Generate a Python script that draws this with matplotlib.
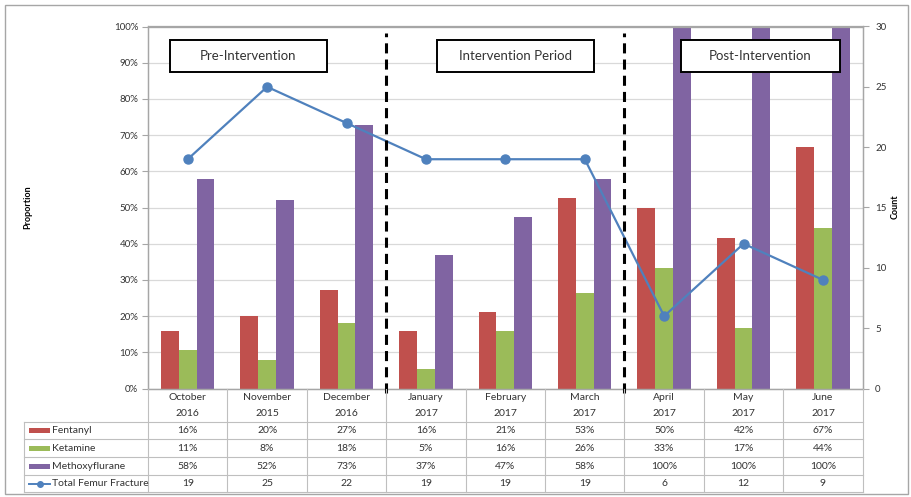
import matplotlib
matplotlib.use('Agg')
import matplotlib.pyplot as plt
from matplotlib.patches import Rectangle
from matplotlib.lines import Line2D
from matplotlib.transforms import blended_transform_factory
import numpy as np

months = ['October', 'November', 'December', 'January', 'February', 'March', 'April', 'May', 'June']
years = ['2016', '2015', '2016', '2017', '2017', '2017', '2017', '2017', '2017']
fentanyl = [15.8, 20.0, 27.3, 15.8, 21.1, 52.6, 50.0, 41.7, 66.7]
ketamine = [10.53, 8.0, 18.2, 5.3, 15.8, 26.3, 33.3, 16.7, 44.4]
methoxyflurane = [57.9, 52.0, 72.7, 36.8, 47.4, 57.9, 100.0, 100.0, 100.0]
femur_total = [19, 25, 22, 19, 19, 19, 6, 12, 9]
period_labels = ['Pre-Intervention', 'Intervention Period', 'Post-Intervention']
period_breaks = [2.5, 5.5]

RED, GREEN, PURPLE, BLUE = '#C0504D', '#9BBB59', '#8064A2', '#4F81BD'
GRID = '#D9D9D9'
TABLE = '#BFBFBF'
TXT = '#333333'

W, H = 911, 497


def fx(px):
    return px / W


def fy(py):
    return 1 - py / H


plt.rcParams['font.family'] = ['Lato', 'DejaVu Sans']
fig = plt.figure(figsize=(W / 100, H / 100), dpi=100)
ax = fig.add_axes([fx(148), fy(388.5), fx(862.7) - fx(148), fy(26.5) - fy(388.5)])
ax2 = ax.twinx()

x = np.arange(len(months))
bw = 0.224
ax.bar(x - bw, fentanyl, bw, color=RED, zorder=2)
ax.bar(x, ketamine, bw, color=GREEN, zorder=2)
ax.bar(x + bw, methoxyflurane, bw, color=PURPLE, zorder=2)
ax.set_xlim(-0.5, len(months) - 0.5)
ax.set_ylim(0, 100)
ax.set_yticks(range(0, 101, 10))
ax.set_yticklabels([f'{t}%' for t in range(0, 101, 10)])
ax.set_xticks([])
ax.grid(axis='y', color=GRID, lw=0.9, zorder=0)
ax.set_axisbelow(True)
ax.tick_params(axis='y', labelsize=7, colors='#A6A6A6', labelcolor=TXT, length=4, pad=3)

ax2.plot(x, femur_total, color=BLUE, lw=1.6, marker='o', ms=6.5, zorder=4)
ax2.set_ylim(0, 30)
ax2.set_yticks(range(0, 31, 5))
ax2.tick_params(axis='y', labelsize=7, colors='#A6A6A6', labelcolor=TXT, length=4, pad=5)

for a in (ax, ax2):
    for s in a.spines.values():
        s.set_color('#A6A6A6')
        s.set_linewidth(0.9)

fig.text(fx(28), fy(207), 'Proportion', rotation=90, weight='bold', fontsize=6.5,
         ha='center', va='center', color='black')
fig.text(fx(895), fy(207), 'Count', rotation=90, weight='bold', fontsize=6.5,
         ha='center', va='center', color='black')

# period separators and labels
for b in period_breaks:
    ax2.axvline(b, ymin=-0.012, ymax=0.982, color='black', lw=2.2,
                ls=(0, (3.3, 2.0)), clip_on=False, zorder=5)

box_x = [(0.031, 0.250), (0.404, 0.624), (0.746, 0.968)]
for label, (x0, x1) in zip(period_labels, box_x):
    ax2.add_patch(Rectangle((x0, 0.874), x1 - x0, 0.088, transform=ax2.transAxes,
                            fc='white', ec='black', lw=1.4, zorder=6))
    ax2.text((x0 + x1) / 2, 0.918, label, transform=ax2.transAxes, ha='center',
             va='center', fontsize=9.5, color=TXT, zorder=7)

# data table below the axis
trans = blended_transform_factory(ax.transData, fig.transFigure)
for i, (m, yr) in enumerate(zip(months, years)):
    ax.text(i, fy(398), m, transform=trans, ha='center', va='center', fontsize=7.5, color=TXT)
    ax.text(i, fy(413), yr, transform=trans, ha='center', va='center', fontsize=7.5, color=TXT)

row_edges = [421.7, 439.3, 457.3, 475.0, 492.3]
for y in row_edges:
    fig.add_artist(Line2D([fx(24), fx(862.7)], [fy(y), fy(y)], color=TABLE, lw=0.8))
fig.add_artist(Line2D([fx(24), fx(24)], [fy(row_edges[0]), fy(row_edges[-1])], color=TABLE, lw=0.8))
for i in range(len(months) + 1):
    fig.add_artist(Line2D([i - 0.5, i - 0.5], [fy(388.5), fy(row_edges[-1])],
                          transform=trans, color=TABLE, lw=0.8))

rows = [
    ('Fentanyl', RED, [f'{v:.0f}%' for v in fentanyl]),
    ('Ketamine', GREEN, [f'{v:.0f}%' for v in ketamine]),
    ('Methoxyflurane', PURPLE, [f'{v:.0f}%' for v in methoxyflurane]),
    ('Total Femur Fracture', None, [str(v) for v in femur_total]),
]
for r, (name, color, vals) in enumerate(rows):
    yc = (row_edges[r] + row_edges[r + 1]) / 2
    if color:
        fig.add_artist(Rectangle((fx(29), fy(yc + 2.5)), fx(50) - fx(29), 5 / H,
                                 fc=color, ec='none', transform=fig.transFigure))
    else:
        fig.add_artist(Line2D([fx(29), fx(50)], [fy(yc), fy(yc)], color=BLUE, lw=1.4))
        fig.add_artist(Line2D([fx(39.5)], [fy(yc)], color=BLUE, marker='o', ms=4))
    fig.text(fx(52), fy(yc), name, ha='left', va='center', fontsize=7.5, color=TXT)
    for i, v in enumerate(vals):
        ax.text(i, fy(yc), v, transform=trans, ha='center', va='center', fontsize=7.5, color=TXT)

# outer chart frame
fig.add_artist(Rectangle((fx(5), fy(494)), fx(908) - fx(5), fy(5) - fy(494), fill=False,
                         ec='#A6A6A6', lw=1, transform=fig.transFigure))

fig.savefig('out.png', dpi=100)
